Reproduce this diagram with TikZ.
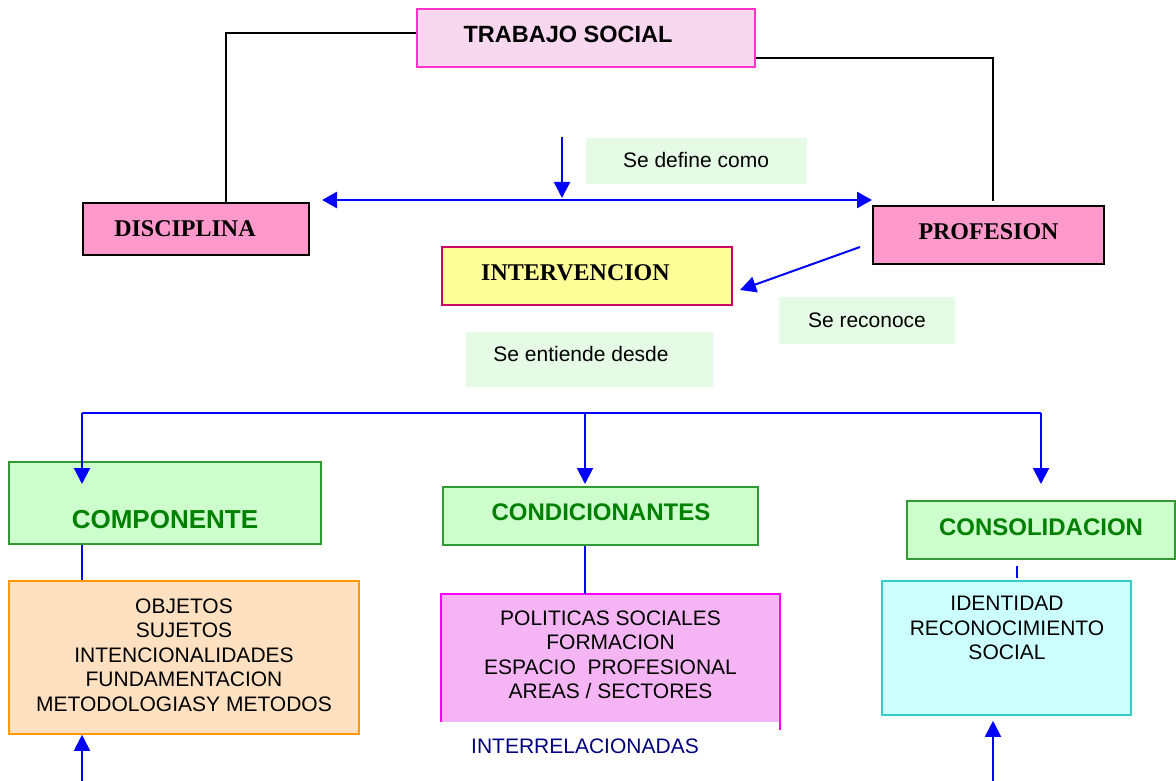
\documentclass[tikz,border=0pt]{standalone}
\usepackage{fontspec}
\setmainfont{Liberation Serif}
\setsansfont{Liberation Sans}
\usetikzlibrary{arrows.meta}
\definecolor{tsfill}{HTML}{F8D8EE}
\definecolor{tsborder}{HTML}{FF33CC}
\definecolor{discfill}{HTML}{FF99CC}
\definecolor{intfill}{HTML}{FFFF99}
\definecolor{intborder}{HTML}{CC0066}
\definecolor{lblgreen}{HTML}{E6FBE6}
\definecolor{headfill}{HTML}{CCFFCC}
\definecolor{headborder}{HTML}{339933}
\definecolor{headtext}{HTML}{008000}
\definecolor{objfill}{HTML}{FFE0C0}
\definecolor{objborder}{HTML}{FF9900}
\definecolor{polfill}{HTML}{F5B5F5}
\definecolor{polborder}{HTML}{FF00FF}
\definecolor{idfill}{HTML}{CCFFFF}
\definecolor{idborder}{HTML}{33CCCC}
\definecolor{navy}{HTML}{000080}
\definecolor{arrowblue}{HTML}{0000FF}
\tikzset{
  box/.style={rectangle, draw, line width=1.6pt, inner sep=0pt},
  lbl/.style={rectangle, fill=lblgreen, inner sep=0pt},
  serifhead/.style={inner sep=0pt, font=\rmfamily\bfseries\fontsize{24}{28}\selectfont},
  sanslbl/.style={inner sep=0pt, font=\sffamily\fontsize{21}{25}\selectfont},
  greenhead/.style={inner sep=0pt, text=headtext, font=\sffamily\bfseries\fontsize{24}{28}\selectfont},
  listtext/.style={inner sep=0pt, align=center, font=\sffamily\fontsize{21}{24.5}\selectfont},
  headbox/.style={box, draw=headborder, fill=headfill},
  kline/.style={draw=black, line width=2pt},
  bline/.style={draw=arrowblue, line width=2pt},
  barrow/.style={bline, -{Triangle[length=16pt,width=16pt]}},
}
\begin{document}
\begin{tikzpicture}[x=1pt,y=-1pt]
\useasboundingbox (0,0) rectangle (1176,781);

% top
\node[box, draw=tsborder, fill=tsfill, minimum width=338pt, minimum height=58pt] (ts) at (586,38) {};
\node[inner sep=0pt, font=\sffamily\bfseries\fontsize{23.5}{28}\selectfont] (tstext) at (568,34) {TRABAJO SOCIAL};

\node[box, draw=black, fill=discfill, minimum width=226pt, minimum height=52pt] (disc) at (196,229) {};
\node[serifhead] (disctext) at (185,229) {DISCIPLINA};

\node[box, draw=black, fill=discfill, minimum width=231pt, minimum height=58pt] (prof) at (988.5,235) {};
\node[serifhead] (proftext) at (988.5,232) {PROFESION};

\node[box, draw=intborder, fill=intfill, minimum width=290pt, minimum height=58pt] (int) at (587,276) {};
\node[serifhead] (inttext) at (575.5,273) {INTERVENCION};

\node[lbl, minimum width=221pt, minimum height=46pt] (ldef) at (696.5,161) {};
\node[sanslbl] (ldeftext) at (696,160) {Se define como};
\node[lbl, minimum width=176pt, minimum height=47pt] (lrec) at (867,320.5) {};
\node[sanslbl] (lrectext) at (867,320) {Se reconoce};
\node[lbl, minimum width=247pt, minimum height=55pt] (lent) at (589.5,359.5) {};
\node[sanslbl] (lenttext) at (581,354) {Se entiende desde};

% black connectors
\draw[kline] ([yshift=5pt]ts.west) -| ([xshift=30pt]disc.north);
\draw[kline] ([yshift=-20pt]ts.east) -| ([xshift=4.5pt,yshift=4pt]prof.north);

% blue arrows top
\coordinate (dL) at (322,200);
\coordinate (dR) at (872,200);
\draw[bline, line width=2.7pt, {Triangle[length=15pt,width=16pt]}-{Triangle[length=15pt,width=16pt]}] (dL) -- (dR);
\coordinate (dtop) at (562,137);
\coordinate (dbot) at (562,198);
\draw[barrow] (dtop) -- (dbot);
\coordinate (pstart) at (860,247);
\coordinate (ptip) at (740,290);
\draw[barrow] (pstart) -- (ptip);

% heads
\node[headbox, minimum width=312pt, minimum height=82pt] (comp) at (165,503) {};
\node[greenhead, font=\sffamily\bfseries\fontsize{26}{30}\selectfont] (comptext) at (165,520) {COMPONENTE};
\node[headbox, minimum width=315pt, minimum height=58pt] (cond) at (600.5,516) {};
\node[greenhead] (condtext) at (601,512) {CONDICIONANTES};
\node[headbox, minimum width=268pt, minimum height=58pt] (cons) at (1041,530) {};
\node[greenhead] (constext) at (1041,527) {CONSOLIDACION};

% tree
\coordinate (t1) at (82,413);
\coordinate (t2) at (585,413);
\coordinate (t3) at (1041,413);
\draw[bline] (t1) -- (t3);
\draw[barrow] (t1) -- (82,484);
\draw[barrow] (t2) -- (585,484);
\draw[barrow] (t3) -- (1041,484);

% lower boxes
\node[box, draw=objborder, fill=objfill, minimum width=350pt, minimum height=153pt] (obj) at (184,657.5) {};
\node[listtext] (objtext) at (184,655) {OBJETOS\\SUJETOS\\INTENCIONALIDADES\\FUNDAMENTACION\\METODOLOGIASY METODOS};

\node[rectangle, inner sep=0pt, fill=polfill, minimum width=339pt, minimum height=128pt] (pol) at (610.5,658) {};
\draw[draw=polborder, line width=1.6pt] (pol.south west) -- (pol.north west) -- (pol.north east) -- ([yshift=-8pt]pol.south east);
\node[listtext] (poltext) at (610.5,655) {POLITICAS SOCIALES\\FORMACION\\ESPACIO\ \ PROFESIONAL\\AREAS / SECTORES};

\node[box, draw=idborder, fill=idfill, minimum width=249pt, minimum height=134pt] (id) at (1006.5,648) {};
\node[listtext] (idtext) at (1007,628) {IDENTIDAD\\RECONOCIMIENTO\\SOCIAL};

\node[sanslbl, text=navy] (inter) at (585,746) {INTERRELACIONADAS};

% vertical connectors
\draw[bline] (comp.south -| t1) -- (obj.north -| t1);
\draw[bline] (cond.south -| t2) -- (pol.north -| t2);
\coordinate (c1) at (1017,566);
\coordinate (c2) at (1017,578);
\draw[bline] (c1) -- (c2);

% bottom arrows
\coordinate (b1) at (82,781);
\coordinate (b2) at (993,781);
\draw[barrow] (b1) -- (obj.south -| b1);
\draw[barrow] (b2) -- ([yshift=-5pt]id.south -| b2);
\end{tikzpicture}
\end{document}
